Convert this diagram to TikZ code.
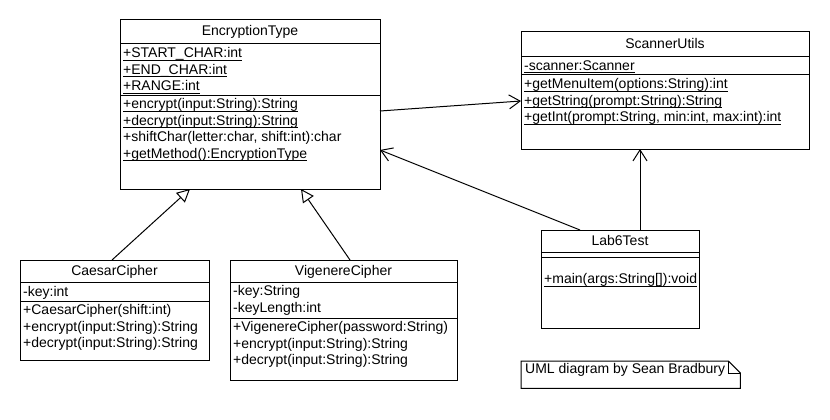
\documentclass[tikz,border=0pt]{standalone}
\usepackage{fontspec}
\setmainfont{Liberation Sans}
\usepackage{tikz}
\usetikzlibrary{arrows.meta, positioning, calc}
\newcommand{\umlfont}{\fontsize{14}{16.5}\selectfont}
\newcommand{\umlstatic}[1]{\sbox0{#1}\rlap{\rule[-2.6pt]{\wd0}{0.8pt}}\usebox0}

\begin{document}
\begin{tikzpicture}[
  x=1pt, y=-1pt,
  every node/.style = {font=\umlfont},
  cls/.style     = {draw, line width=1pt, inner sep=0pt, outer sep=0pt,
                    anchor=north west, text height=10pt, text depth=2pt},
  part/.style    = {draw, line width=1pt, inner sep=0pt, outer sep=0pt},
  members/.style = {anchor=north west, inner xsep=3pt, inner ysep=3.5pt,
                    align=left, execute at begin node=\strut},
  gen/.style     = {-{Triangle[open, length=13pt, width=13pt]}, line width=1pt},
  assoc/.style   = {-{Straight Barb[length=11pt, width=14pt]}, line width=1pt},
]
\useasboundingbox (0,0) rectangle (830,420);

% EncryptionType
\node[cls, minimum width=260pt, minimum height=24pt] (enc) at (120,20) {EncryptionType};
\node[part, below=0pt of enc, minimum width=260pt, minimum height=51pt] (enc-attr) {};
\node[part, below=0pt of enc-attr, minimum width=260pt, minimum height=94pt] (enc-ops) {};
\node[members] (enc-attr-txt) at (enc-attr.north west)
  {\umlstatic{+START\_CHAR:int}\\\umlstatic{+END\_CHAR:int}\\\umlstatic{+RANGE:int}};
\node[members] (enc-ops-txt) at (enc-ops.north west)
  {\umlstatic{+encrypt(input:String):String}\\\umlstatic{+decrypt(input:String):String}\\
   +shiftChar(letter:char, shift:int):char\\\umlstatic{+getMethod():EncryptionType}};

% ScannerUtils
\node[cls, minimum width=288pt, minimum height=25pt] (scan) at (521,32) {ScannerUtils};
\node[part, below=0pt of scan, minimum width=288pt, minimum height=18pt] (scan-attr) {};
\node[part, below=0pt of scan-attr, minimum width=288pt, minimum height=74pt] (scan-ops) {};
\node[members, inner ysep=1.5pt] (scan-attr-txt) at (scan-attr.north west)
  {\umlstatic{-scanner:Scanner}};
\node[members] (scan-ops-txt) at (scan-ops.north west)
  {\umlstatic{+getMenuItem(options:String):int}\\\umlstatic{+getString(prompt:String):String}\\
   \umlstatic{+getInt(prompt:String, min:int, max:int):int}};

% CaesarCipher
\node[cls, minimum width=189pt, minimum height=22pt] (caesar) at (20,260) {CaesarCipher};
\node[part, below=0pt of caesar, minimum width=189pt, minimum height=19pt] (caesar-attr) {};
\node[part, below=0pt of caesar-attr, minimum width=189pt, minimum height=59pt] (caesar-ops) {};
\node[members, inner ysep=2.5pt] (caesar-attr-txt) at (caesar-attr.north west) {-key:int};
\node[members] (caesar-ops-txt) at (caesar-ops.north west)
  {+CaesarCipher(shift:int)\\+encrypt(input:String):String\\+decrypt(input:String):String};

% VigenereCipher
\node[cls, minimum width=227pt, minimum height=22pt] (vig) at (230,260) {VigenereCipher};
\node[part, below=0pt of vig, minimum width=227pt, minimum height=36pt] (vig-attr) {};
\node[part, below=0pt of vig-attr, minimum width=227pt, minimum height=62pt] (vig-ops) {};
\node[members] (vig-attr-txt) at (vig-attr.north west)
  {-key:String\\-keyLength:int};
\node[members] (vig-ops-txt) at (vig-ops.north west)
  {+VigenereCipher(password:String)\\+encrypt(input:String):String\\+decrypt(input:String):String};

% Lab6Test
\node[cls, minimum width=158pt, minimum height=22pt] (lab) at (541,230) {Lab6Test};
\node[part, below=0pt of lab, minimum width=158pt, minimum height=5pt] (lab-attr) {};
\node[part, below=0pt of lab-attr, minimum width=158pt, minimum height=71pt] (lab-ops) {};
\node[members, inner ysep=15pt] (lab-ops-txt) at (lab-ops.north west)
  {\umlstatic{+main(args:String[]):void}};

% note
\node[anchor=north west, minimum width=219pt, minimum height=27pt, inner sep=0pt] (note) at (521,361) {};
\node[anchor=base west, inner sep=0pt] (note-txt) at ($(note.north west)+(4,12)$) {UML diagram by Sean Bradbury};
\draw[line width=1pt] (note.north west) -- ($(note.north east)+(-12,0)$) -- ($(note.north east)+(0,12)$)
  -- (note.south east) -- (note.south west) -- cycle;
\draw[line width=1pt] ($(note.north east)+(-12,0)$) |- ($(note.north east)+(0,12)$);

% relations
\draw[gen] ($(caesar.north west)+(92,0)$) -- ($(enc-ops.south west)+(70,0)$);
\draw[gen] ($(vig.north west)+(120,0)$) -- ($(enc-ops.south west)+(181,0)$);
\draw[assoc] ($(enc-ops.north east)+(0,16)$) -- ($(scan-ops.north west)+(0,26)$);
\draw[assoc] ($(lab.north west)+(39,0)$) -- ($(enc-ops.north east)+(0,55)$);
\draw[assoc] ($(lab.north west)+(99,0)$) coordinate (lab-up) -- (lab-up |- scan-ops.south);
\end{tikzpicture}
\end{document}
